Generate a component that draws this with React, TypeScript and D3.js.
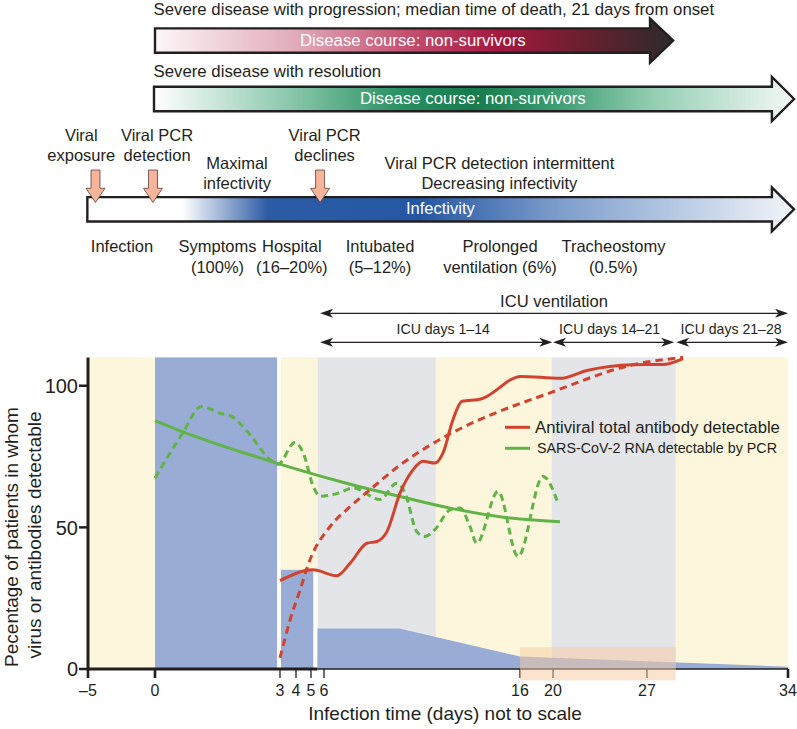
import React from 'react';
import * as d3 from 'd3';

const W = 797;
const H = 729;
const FONT = '"Liberation Sans", Arial, Helvetica, sans-serif';
const INK = '#231f20';

// the time axis is "not to scale": each labelled day gets its own stop
const dayStops = [-5, 0, 3, 4, 5, 6, 16, 20, 27, 34];
const pxStops = [88, 155, 280, 296, 311, 324, 520, 553, 647, 788];
const xTicks = [-5, 0, 3, 4, 5, 6, 16, 20, 27, 34];
const yTicks = [0, 50, 100];

const bands = [
  { from: -5, to: 5.52, fill: '#fbf6dc' },
  { from: 5.52, to: 11.71, fill: '#e4e5e8' },
  { from: 11.71, to: 19.84, fill: '#fbf6dc' },
  { from: 19.84, to: 28.43, fill: '#e4e5e8' },
  { from: 28.43, to: 34, fill: '#fbf6dc' },
];

// blue blocks (share of patients in each phase)
const phaseBlocks = [
  { from: 0, to: 2.93, value: 110 },
  { from: 3.06, to: 5.19, value: 35 },
];
const phaseTailDays = [5.48, 9.84, 16, 34];
const phaseTailValues = [14.3, 14.3, 4.4, 0.8];

// [day, %]
const antibodyObserved = [
  [3, 31.2], [5.15, 35], [6.66, 32.9], [7.33, 37.3], [8.19, 44.4], [8.7, 45],
  [9.21, 48.5], [9.88, 62.1], [10.54, 70.3], [11.05, 73.3], [11.66, 72.7],
  [12.07, 76.2], [12.58, 88], [13.04, 94.5], [14.01, 95.3], [16.12, 103.3],
  [20.52, 102.6], [22.53, 105.4], [25.96, 107.4], [27.79, 107.5], [28.79, 109.6],
];
const antibodyTrend = [
  [3, 3.9], [3.63, 17.3], [4.27, 27.9], [4.93, 38.5], [6.31, 50.3], [7.33, 57.3],
  [8.35, 63.3], [9.88, 72], [11.41, 79], [12.43, 83], [13.45, 86.5],
  [19.64, 97.5], [25.96, 107.4], [28.79, 110],
];
const pcrObserved = [
  [0, 67.4], [0.64, 82.7], [1.12, 92.7], [1.56, 90.3], [1.84, 89.2], [2.28, 82.7],
  [2.76, 73.9], [2.95, 72.3], [3.94, 80], [4.49, 76.2], [5.18, 64.4], [5.69, 61],
  [6.7, 62], [7.5, 63.9], [8.86, 59.8], [9.71, 65.6], [10.14, 62.1], [10.73, 48.5],
  [11.15, 46.8], [11.66, 49.2], [12.43, 56.2], [12.94, 56.8], [13.45, 50.3],
  [13.79, 44.4], [14.88, 62.7], [15.9, 39.7], [18.79, 68], [20.37, 58.6],
];
const pcrTrend = [
  [0, 87.7], [0.64, 83.9], [2.92, 72.7], [6.82, 66.2], [9.88, 60.9],
  [12.43, 56.8], [15.34, 53.4], [20.52, 52],
];

const markerDays = [-4.44, -0.15, 5.7];
const upperNotes = [
  { day: -5.5, lines: ['Viral', 'exposure'], y: 141 },
  { day: 0.05, lines: ['Viral PCR', 'detection'], y: 141 },
  { day: 1.97, lines: ['Maximal', 'infectivity'], y: 168.5 },
  { day: 6.03, lines: ['Viral PCR', 'declines'], y: 141 },
  { day: 14.95, lines: ['Viral PCR detection intermittent', 'Decreasing infectivity'], y: 168.5 },
];
const lowerNotes = [
  { day: -2.46, lines: ['Infection'] },
  { day: 1.5, lines: ['Symptoms', '(100%)'] },
  { day: 3.74, lines: ['Hospital', '(16–20%)'] },
  { day: 8.86, lines: ['Intubated', '(5–12%)'] },
  { day: 14.98, lines: ['Prolonged', 'ventilation (6%)'] },
  { day: 24.5, lines: ['Tracheostomy', '(0.5%)'] },
];
const icuSpans = [
  { from: 5.7, to: 19.92, label: 'ICU days 1–14', shift: 7 },
  { from: 20, to: 28.35, label: 'ICU days 14–21', shift: -4 },
  { from: 28.45, to: 34, label: 'ICU days 21–28', shift: -1 },
];

const x = d3.scaleLinear().domain(dayStops).range(pxStops);
const y = d3.scaleLinear().domain([0, 110]).range([669, 357.4]);

const curve = d3
  .line<number[]>()
  .x(d => x(d[0]))
  .y(d => y(d[1]))
  .curve(d3.curveMonotoneX);

const tailArea = d3
  .area<number>()
  .x((d, i) => x(phaseTailDays[i]))
  .y0(y(0))
  .y1(d => y(d));

function blockArrow(x0: number, x1: number, tip: number, cy: number) {
  const h = 12.2;
  const hh = 22;
  return `M${x0},${cy - h}H${x1}V${cy - hh}L${tip},${cy}L${x1},${cy + hh}V${cy + h}H${x0}Z`;
}

function head(tx: number, ty: number, dir: number) {
  const l = 13 * dir;
  const n = 9.5 * dir;
  return `M${tx},${ty}L${tx - l},${ty - 4.5}L${tx - n},${ty}L${tx - l},${ty + 4.5}Z`;
}

function DoubleArrow({ x0, x1, yy }: { x0: number; x1: number; yy: number }) {
  return (
    <g>
      <line x1={x0 + 6} x2={x1 - 6} y1={yy} y2={yy} stroke={INK} strokeWidth={1.3} />
      <path d={head(x0, yy, -1)} fill={INK} />
      <path d={head(x1, yy, 1)} fill={INK} />
    </g>
  );
}

export default function App() {
  const redX0 = x(0);
  const redX1 = x(27.15);
  const redTip = x(28.3);
  const grnX1 = x(33.2);
  const grnTip = x(34.3);
  const infX0 = x(-5.05);

  const plotTop = y(110);

  return (
    <svg width={W} height={H} style={{ display: 'block', position: 'absolute', left: 0, top: 0 }} fontFamily={FONT}>
      <defs>
        <linearGradient id="gRed" gradientUnits="userSpaceOnUse" x1={redX0} x2={redTip} y1={0} y2={0}>
          <stop offset="0" stopColor="#fdf6f8" />
          <stop offset="0.28" stopColor="#e0a8b7" />
          <stop offset="0.47" stopColor="#c75574" />
          <stop offset="0.66" stopColor="#a6183f" />
          <stop offset="0.82" stopColor="#6c1f2f" />
          <stop offset="1" stopColor="#2c2a2b" />
        </linearGradient>
        <linearGradient id="gGreen" gradientUnits="userSpaceOnUse" x1={redX0} x2={grnTip} y1={0} y2={0}>
          <stop offset="0" stopColor="#ffffff" />
          <stop offset="0.23" stopColor="#7fc2a4" />
          <stop offset="0.39" stopColor="#268f62" />
          <stop offset="0.5" stopColor="#167b4d" />
          <stop offset="0.62" stopColor="#389a6f" />
          <stop offset="0.78" stopColor="#94ceb3" />
          <stop offset="1" stopColor="#f4f9f6" />
        </linearGradient>
        <linearGradient id="gBlue" gradientUnits="userSpaceOnUse" x1={infX0} x2={grnTip} y1={0} y2={0}>
          <stop offset="0" stopColor="#ffffff" />
          <stop offset="0.134" stopColor="#ffffff" />
          <stop offset="0.255" stopColor="#2d5ca6" />
          <stop offset="0.47" stopColor="#2457a3" />
          <stop offset="0.67" stopColor="#7e9ecc" />
          <stop offset="1" stopColor="#f2f5fa" />
        </linearGradient>
      </defs>

      {/* disease course arrows */}
      <text x={redX0 - 1.5} y={15} fontSize={16.8} fill={INK}>
        Severe disease with progression; median time of death, 21 days from onset
      </text>
      <path d={blockArrow(redX0, redX1, redTip, 40.6)} fill="url(#gRed)" stroke={INK} strokeWidth={2.4} strokeLinejoin="miter" />
      <text x={300} y={46} fontSize={16.8} fill="#fff">Disease course: non-survivors</text>

      <text x={redX0 - 1.5} y={77} fontSize={16.8} fill={INK}>Severe disease with resolution</text>
      <path d={blockArrow(redX0 - 1, grnX1, grnTip, 99)} fill="url(#gGreen)" stroke={INK} strokeWidth={2.4} />
      <text x={360} y={104} fontSize={16.8} fill="#fff">Disease course: non-survivors</text>

      {/* infectivity */}
      {upperNotes.map(n => (
        <text key={n.lines[0] + n.day} x={x(n.day)} y={n.y} fontSize={16.5} fill={INK} textAnchor="middle">
          {n.lines.map((l, i) => (
            <tspan key={i} x={x(n.day)} dy={i === 0 ? 0 : 20}>{l}</tspan>
          ))}
        </text>
      ))}
      <path d={blockArrow(infX0, grnX1, grnTip, 209.3)} fill="url(#gBlue)" stroke={INK} strokeWidth={2.4} />
      <text x={406} y={214} fontSize={16.5} fill="#fff">Infectivity</text>
      {markerDays.map(d => {
        const cx = x(d);
        return (
          <path
            key={d}
            d={`M${cx - 4.5},170H${cx + 4.5}V188.3H${cx + 9.5}L${cx},202.5L${cx - 9.5},188.3H${cx - 4.5}Z`}
            fill="#f6b49b"
            stroke="#5b4038"
            strokeWidth={0.8}
          />
        );
      })}
      {lowerNotes.map(n => (
        <text key={n.lines[0]} x={x(n.day)} y={252} fontSize={16.5} fill={INK} textAnchor="middle">
          {n.lines.map((l, i) => (
            <tspan key={i} x={x(n.day)} dy={i === 0 ? 0 : 20.5}>{l}</tspan>
          ))}
        </text>
      ))}

      {/* ICU spans */}
      <text x={(x(5.7) + x(34)) / 2} y={307} fontSize={16.6} fill={INK} textAnchor="middle">ICU ventilation</text>
      <DoubleArrow x0={x(5.7)} x1={x(34)} yy={313.3} />
      {icuSpans.map(s => (
        <g key={s.label}>
          <text x={(x(s.from) + x(s.to)) / 2 + s.shift} y={334} fontSize={14.1} fill={INK} textAnchor="middle">{s.label}</text>
          <DoubleArrow x0={x(s.from)} x1={x(s.to)} yy={342.3} />
        </g>
      ))}

      {/* plot background */}
      {bands.map(b => (
        <rect key={b.from} x={x(b.from)} y={plotTop} width={x(b.to) - x(b.from)} height={y(0) - plotTop} fill={b.fill} />
      ))}
      {phaseBlocks.map(b => (
        <rect
          key={b.from}
          x={x(b.from)}
          y={y(b.value)}
          width={x(b.to) - x(b.from)}
          height={y(0) - y(b.value)}
          fill="#98acd6"
        />
      ))}
      <path d={tailArea(phaseTailValues) || ''} fill="#98acd6" />
      {/* thin white gaps between the phase blocks */}
      {[phaseBlocks[0].to, phaseBlocks[1].to].map((d, i) => {
        const next = i === 0 ? phaseBlocks[1].from : phaseTailDays[0];
        return (
          <rect key={d} x={x(d)} y={i === 0 ? plotTop : y(35)} width={x(next) - x(d)} height={y(0) - (i === 0 ? plotTop : y(35))} fill="#fffdf4" />
        );
      })}

      {/* curves */}
      <path d={curve(pcrTrend) || ''} fill="none" stroke="#62b346" strokeWidth={3} />
      <path d={curve(pcrObserved) || ''} fill="none" stroke="#62b346" strokeWidth={3} strokeDasharray="7,4.5" />
      <path d={curve(antibodyTrend) || ''} fill="none" stroke="#d2432f" strokeWidth={3} strokeDasharray="7.5,5" />
      <path d={curve(antibodyObserved) || ''} fill="none" stroke="#d2432f" strokeWidth={3} />

      {/* legend */}
      <line x1={505} x2={530} y1={427.3} y2={427.3} stroke="#d2432f" strokeWidth={3} />
      <text x={535} y={433} fontSize={16.7} fill={INK}>Antiviral total antibody detectable</text>
      <line x1={505} x2={530} y1={448.3} y2={448.3} stroke="#62b346" strokeWidth={3} />
      <text x={537} y={452.7} fontSize={14.3} fill={INK}>SARS-CoV-2 RNA detectable by PCR</text>

      {/* axes */}
      <line x1={x(-5)} x2={x(-5)} y1={plotTop} y2={y(0) + 1.5} stroke={INK} strokeWidth={3} />
      <line x1={x(-5)} x2={x(5.5)} y1={y(0)} y2={y(0)} stroke={INK} strokeWidth={3} />
      <line x1={x(5.5)} x2={x(34)} y1={y(0)} y2={y(0)} stroke={INK} strokeWidth={1.6} />
      {yTicks.map(t => (
        <g key={t}>
          <line x1={x(-5) - 9} x2={x(-5)} y1={y(t)} y2={y(t)} stroke={INK} strokeWidth={2.5} />
          <text x={x(-5) - 10} y={y(t)} dy="0.36em" fontSize={20} textAnchor="end" fill={INK}>{t}</text>
        </g>
      ))}
      {xTicks.map(t => (
        <g key={t}>
          <line
            x1={x(t)}
            x2={x(t)}
            y1={y(0)}
            y2={y(0) + 9}
            stroke={INK}
            strokeWidth={t === -5 || t === 0 || t === 34 ? 2.6 : 1.3}
          />
          <text x={x(t)} y={696} fontSize={16} textAnchor="middle" fill={INK}>
            {t < 0 ? `–${Math.abs(t)}` : t}
          </text>
        </g>
      ))}
      {/* translucent highlight over the late ICU period */}
      <rect x={x(16)} y={y(7.7)} width={x(28.43) - x(16)} height={y(-4) - y(7.7)} fill="#f7c9a0" opacity={0.5} />

      <text x={445} y={720} fontSize={19} textAnchor="middle" fill={INK}>Infection time (days) not to scale</text>
      <text transform="translate(18,537) rotate(-90)" fontSize={19} textAnchor="middle" fill={INK}>
        Pecentage of patients in whom
      </text>
      <text transform="translate(41,535) rotate(-90)" fontSize={19} textAnchor="middle" fill={INK}>
        virus or antibodies detectable
      </text>
    </svg>
  );
}
